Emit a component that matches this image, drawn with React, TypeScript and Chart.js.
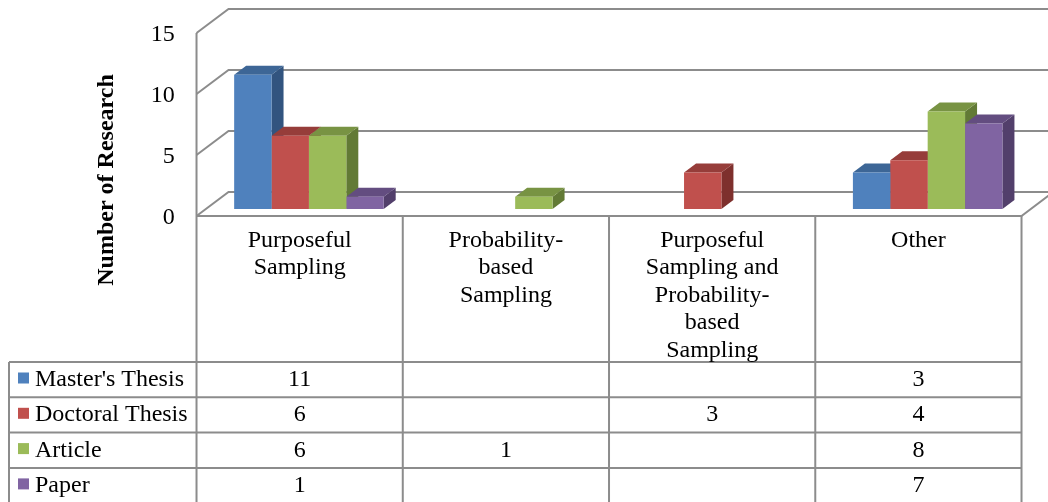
import React, { useEffect, useRef } from "react";
import { Chart, registerables } from "chart.js";

Chart.register(...registerables);

// Category labels, already broken into lines as they appear in the table header
const categories: string[][] = [
  ["Purposeful", "Sampling"],
  ["Probability-", "based", "Sampling"],
  ["Purposeful", "Sampling and", "Probability-", "based", "Sampling"],
  ["Other"],
];

const seriesNames = ["Master's Thesis", "Doctoral Thesis", "Article", "Paper"];

const mastersThesis: (number | null)[] = [11, null, null, 3];
const doctoralThesis: (number | null)[] = [6, null, 3, 4];
const article: (number | null)[] = [6, 1, null, 8];
const paper: (number | null)[] = [1, null, null, 7];

const yTicks = [0, 5, 10, 15];

const frontColors = ["#4F81BD", "#C0504D", "#9BBB59", "#8064A2"];
const topColors = ["#3D6696", "#963D3A", "#789343", "#634D80"];
const sideColors = ["#32547F", "#7E302D", "#627A35", "#523F6B"];

const FONT = '"Liberation Serif", "Times New Roman", serif';
const TEXT_SIZE = 24;
const GRID = "#8c8c8c";

// Oblique projection of the plot box: full depth offset, where the bar
// slab sits inside it, and how deep each bar is.
const DEPTH_X = 32;
const DEPTH_Y = -24;
const BAR_PLANE = 0.29;
const BAR_DEPTH = 0.375;

const TABLE_TOP = 362;
const ROW_H = 35.3;
const TABLE_LEFT = 9;

const line = (ctx: CanvasRenderingContext2D, pts: number[][]) => {
  ctx.beginPath();
  ctx.moveTo(pts[0][0], pts[0][1]);
  for (let i = 1; i < pts.length; i++) ctx.lineTo(pts[i][0], pts[i][1]);
  ctx.stroke();
};

const poly = (ctx: CanvasRenderingContext2D, pts: number[][], fill: string) => {
  ctx.beginPath();
  ctx.moveTo(pts[0][0], pts[0][1]);
  for (let i = 1; i < pts.length; i++) ctx.lineTo(pts[i][0], pts[i][1]);
  ctx.closePath();
  ctx.fillStyle = fill;
  ctx.fill();
};

const frame = (chart: any) => {
  const { chartArea, scales } = chart;
  const fx = -BAR_PLANE * DEPTH_X;
  const fy = -BAR_PLANE * DEPTH_Y;
  const yF = (v: number) => scales.y.getPixelForValue(v) + fy;
  const left = chartArea.left + fx;
  const right = chartArea.right + fx;
  const colW = (chartArea.right - chartArea.left) / categories.length;
  return { yF, left, right, colW, fx };
};

const walls3d = {
  id: "walls3d",
  beforeDatasetsDraw(chart: any) {
    const { ctx } = chart;
    const { yF, left, right } = frame(chart);
    ctx.save();
    ctx.strokeStyle = GRID;
    ctx.lineWidth = 2;
    // left wall diagonals and back wall gridlines
    yTicks.forEach((v) => {
      line(ctx, [
        [left, yF(v)],
        [left + DEPTH_X, yF(v) + DEPTH_Y],
        [right + DEPTH_X + 40, yF(v) + DEPTH_Y],
      ]);
    });
    // left wall front edge, continuing down as the table border
    line(ctx, [
      [left, yF(yTicks[yTicks.length - 1])],
      [left, chart.height + 2],
    ]);
    // floor front and right edges
    line(ctx, [
      [left, yF(0)],
      [right, yF(0)],
      [right + DEPTH_X, yF(0) + DEPTH_Y],
    ]);
    ctx.restore();

    // bar sides, then tops; fronts are drawn by Chart.js on top
    const bdx = BAR_DEPTH * DEPTH_X;
    const bdy = BAR_DEPTH * DEPTH_Y;
    const bars: any[] = [];
    chart.data.datasets.forEach((ds: any, di: number) => {
      const meta = chart.getDatasetMeta(di);
      meta.data.forEach((el: any, i: number) => {
        if (ds.data[i] == null) return;
        const p = el.getProps(["x", "y", "base", "width"], true);
        bars.push({ ...p, di });
      });
    });
    ctx.save();
    bars.forEach((b) => {
      const r = b.x + b.width / 2;
      poly(
        ctx,
        [
          [r, b.y],
          [r, b.base],
          [r + bdx, b.base + bdy],
          [r + bdx, b.y + bdy],
        ],
        sideColors[b.di]
      );
    });
    bars.forEach((b) => {
      const l = b.x - b.width / 2;
      const r = b.x + b.width / 2;
      poly(
        ctx,
        [
          [l, b.y],
          [r, b.y],
          [r + bdx, b.y + bdy],
          [l + bdx, b.y + bdy],
        ],
        topColors[b.di]
      );
    });
    ctx.restore();
  },
  afterDraw(chart: any) {
    const { ctx } = chart;
    const { yF, left, colW } = frame(chart);
    const series = [mastersThesis, doctoralThesis, article, paper];
    const top = yF(0);
    const bottom = chart.height + 2;
    ctx.save();
    ctx.strokeStyle = GRID;
    ctx.lineWidth = 2;
    // column dividers of the table
    for (let c = 1; c <= categories.length; c++) {
      const x = left + c * colW;
      line(ctx, [
        [x, top],
        [x, bottom],
      ]);
    }
    // series rows
    const tableRight = left + categories.length * colW;
    for (let r = 0; r < series.length; r++) {
      const y = TABLE_TOP + r * ROW_H;
      line(ctx, [
        [TABLE_LEFT, y],
        [tableRight, y],
      ]);
    }
    line(ctx, [
      [TABLE_LEFT, TABLE_TOP],
      [TABLE_LEFT, bottom],
    ]);

    ctx.fillStyle = "#000";
    ctx.font = `${TEXT_SIZE}px ${FONT}`;
    ctx.textBaseline = "alphabetic";
    ctx.textAlign = "center";
    // category header cells
    categories.forEach((lines, c) => {
      const cx = left + (c + 0.5) * colW;
      lines.forEach((t, k) => {
        ctx.fillText(t, cx, 247 + k * 27.4);
      });
    });
    // legend keys and values
    series.forEach((vals, r) => {
      const base = TABLE_TOP + r * ROW_H + 24;
      ctx.fillStyle = frontColors[r];
      ctx.fillRect(18, base - 13.5, 11, 11);
      ctx.fillStyle = "#000";
      ctx.textAlign = "left";
      ctx.fillText(seriesNames[r], 35, base);
      ctx.textAlign = "center";
      vals.forEach((v, c) => {
        if (v == null) return;
        ctx.fillText(String(v), left + (c + 0.5) * colW, base);
      });
    });

    // y axis title
    ctx.font = `bold ${TEXT_SIZE}px ${FONT}`;
    ctx.translate(113, 180);
    ctx.rotate(-Math.PI / 2);
    ctx.textAlign = "center";
    ctx.fillText("Number of Research", 0, 0);
    ctx.restore();
  },
};

export default function App() {
  const canvasRef = useRef<HTMLCanvasElement | null>(null);

  useEffect(() => {
    const canvas = canvasRef.current;
    if (!canvas) return;
    const seriesData = [mastersThesis, doctoralThesis, article, paper];
    const chart = new Chart(canvas, {
      type: "bar",
      data: {
        labels: categories.map((c) => c.join(" ")),
        datasets: seriesNames.map((name, i) => ({
          label: name,
          data: seriesData[i],
          backgroundColor: frontColors[i],
          borderWidth: 0,
          categoryPercentage: 0.725,
          barPercentage: 1,
        })),
      },
      options: {
        responsive: false,
        animation: false,
        events: [],
        layout: { padding: { top: 26, bottom: 293, right: 17.2, left: 0 } },
        plugins: {
          legend: { display: false },
          tooltip: { enabled: false },
          title: { display: false },
        },
        scales: {
          x: { display: false },
          y: {
            min: 0,
            max: 15,
            afterBuildTicks: (s: any) => {
              s.ticks = yTicks.map((v) => ({ value: v }));
            },
            afterFit: (s: any) => {
              s.width = 205.8;
              s.paddingTop = 0;
              s.paddingBottom = 0;
            },
            ticks: {
              padding: 31,
              labelOffset: 9,
              color: "#000",
              font: { family: FONT, size: TEXT_SIZE },
            },
            grid: { display: false, drawTicks: false },
            border: { display: false },
          },
        },
      },
      plugins: [walls3d],
    });
    return () => chart.destroy();
  }, []);

  return (
    <div
      style={{
        position: "absolute",
        left: 0,
        top: 0,
        width: 1048,
        height: 502,
        background: "#fff",
      }}
    >
      <canvas ref={canvasRef} width={1048} height={502} />
    </div>
  );
}
